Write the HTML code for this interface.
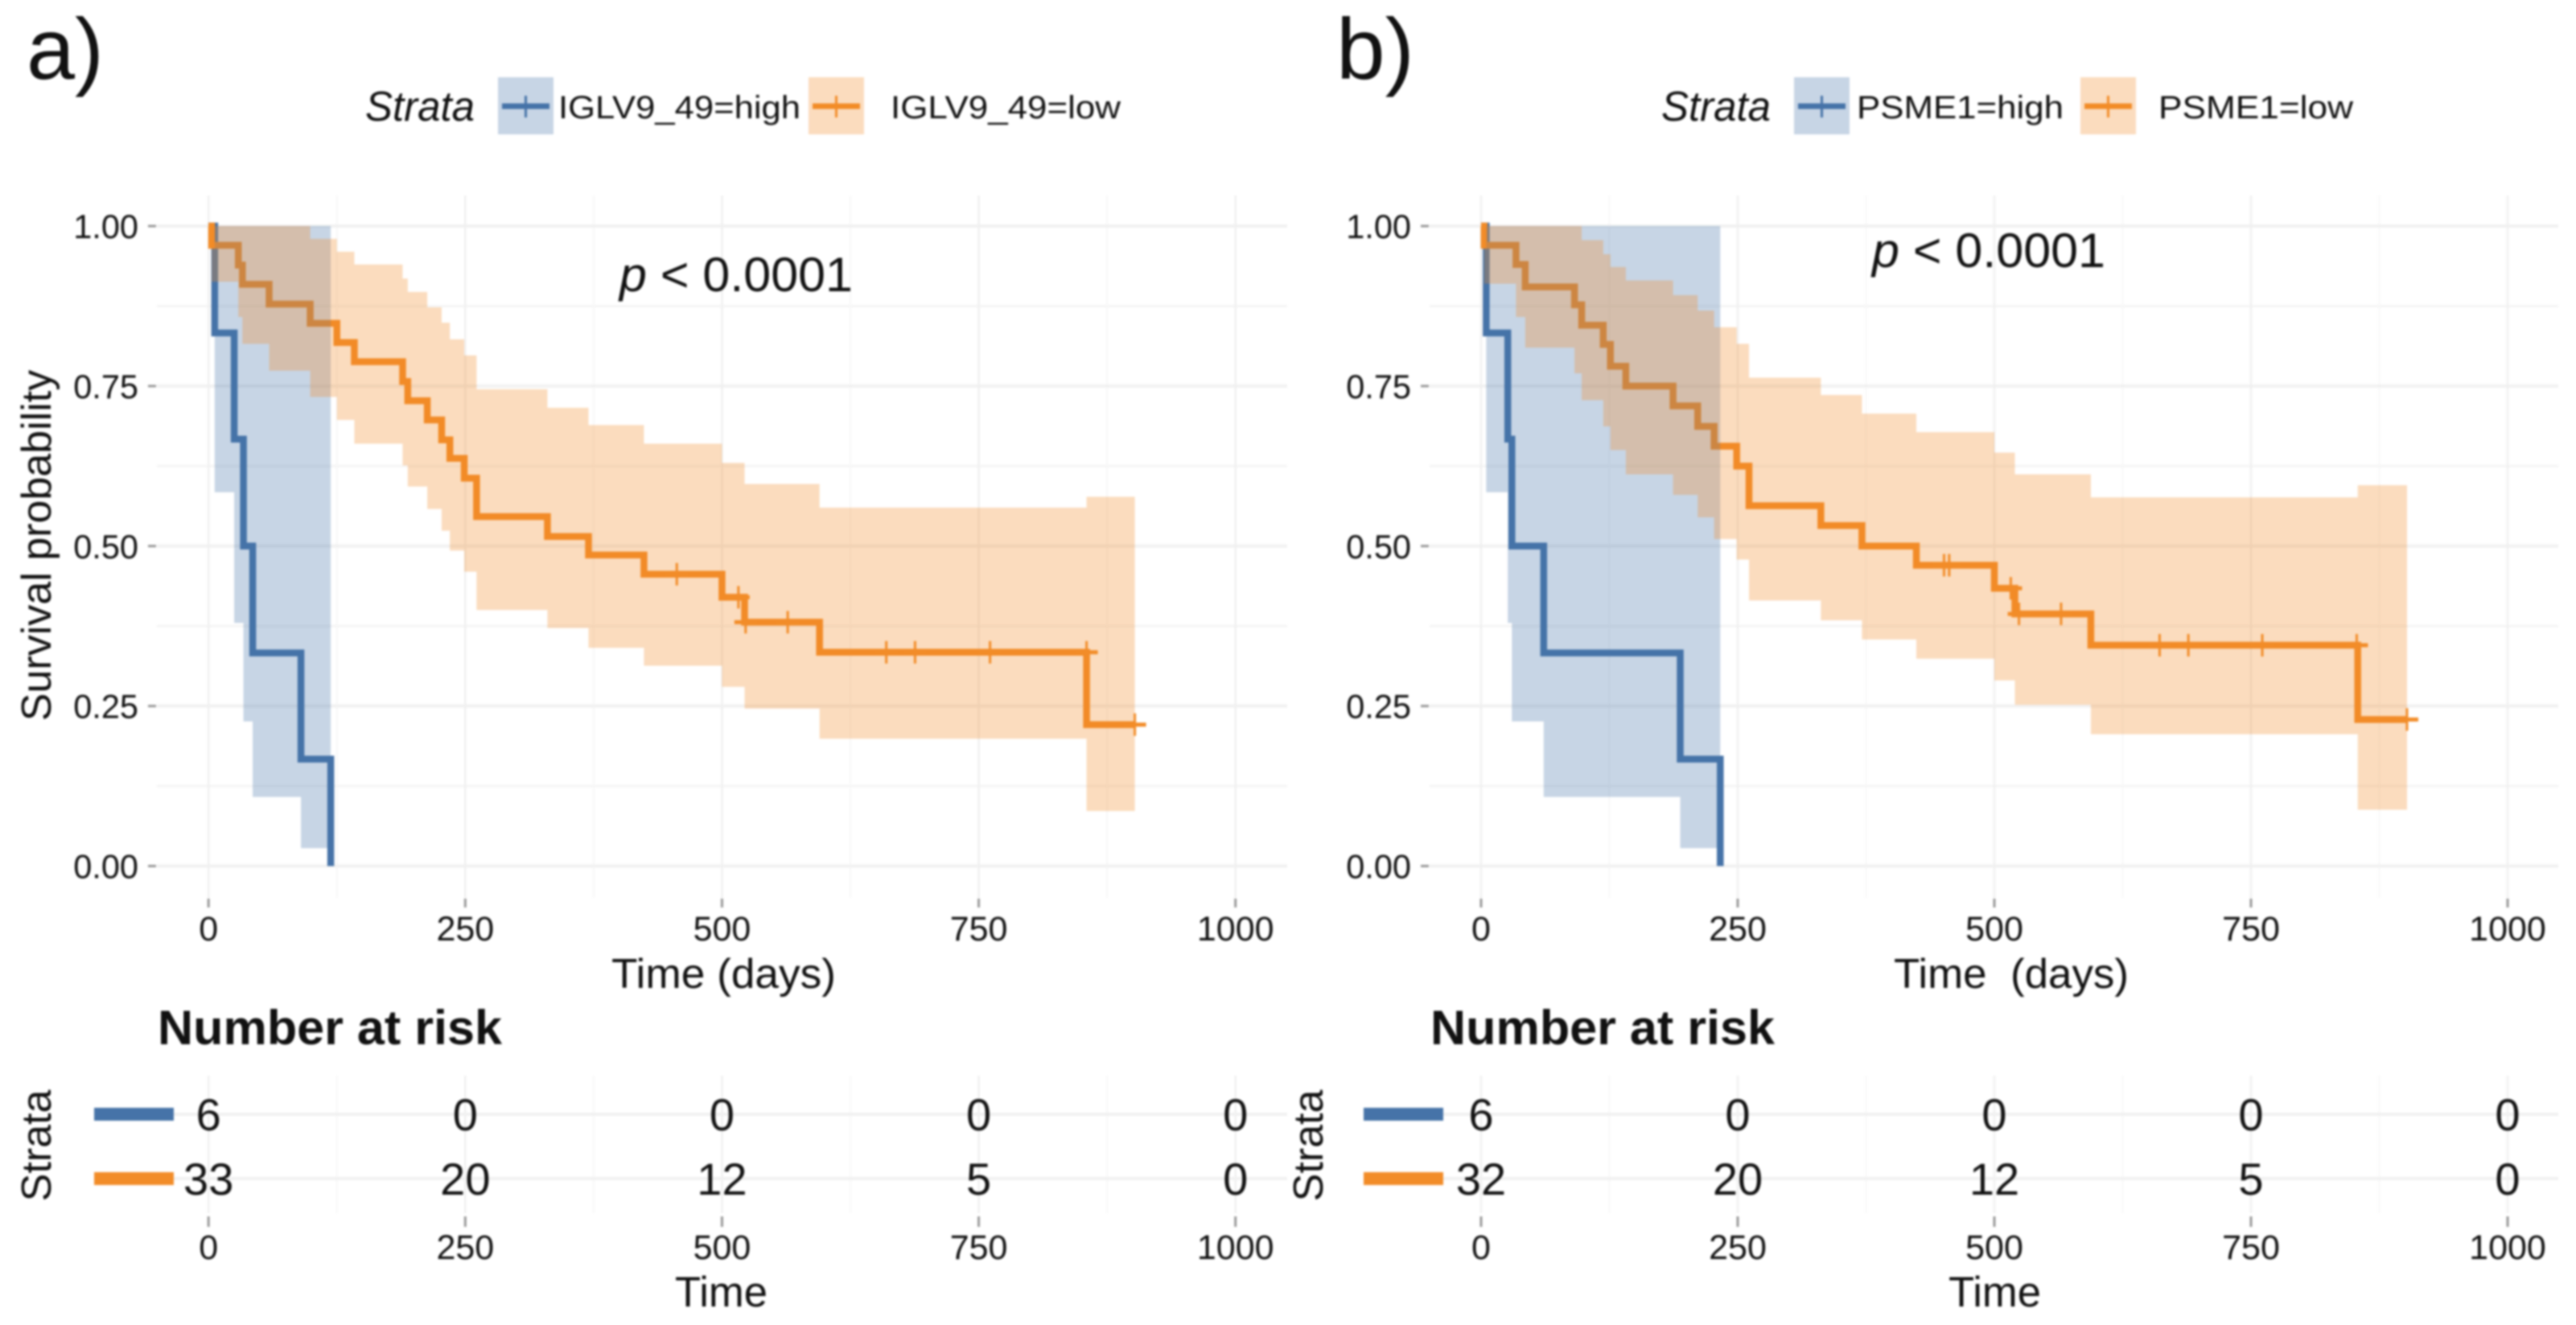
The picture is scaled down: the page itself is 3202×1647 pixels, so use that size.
<!DOCTYPE html>
<html lang="en">
<head>
<meta charset="utf-8">
<title>Kaplan-Meier survival curves</title>
<style>
html,body{margin:0;padding:0;background:#fff;width:3202px;height:1647px;overflow:hidden}
svg{display:block;filter:blur(1.2px)}
text{font-family:"Liberation Sans",sans-serif;fill:#111;white-space:pre}
</style>
</head>
<body>
<svg id="figure" xmlns="http://www.w3.org/2000/svg" width="3202" height="1647" viewBox="0 0 3202 1647">
  <rect x="0" y="0" width="3202" height="1647" fill="#fff"/>
  <g id="layer-marks"></g>

  <!-- panel a static text -->
  <text x="33" y="98" font-size="108" textLength="96" lengthAdjust="spacingAndGlyphs">a)</text>
  <text x="454" y="150" font-size="52" font-style="italic" textLength="136" lengthAdjust="spacingAndGlyphs">Strata</text>
  <text x="694" y="147" font-size="40" textLength="301" lengthAdjust="spacingAndGlyphs">IGLV9_49=high</text>
  <text x="1107" y="147" font-size="40" textLength="286" lengthAdjust="spacingAndGlyphs">IGLV9_49=low</text>
  <text x="770" y="362" font-size="60" textLength="290" lengthAdjust="spacingAndGlyphs"><tspan font-style="italic">p</tspan> &lt; 0.0001</text>
  <text transform="translate(63,678) rotate(-90)" text-anchor="middle" font-size="52">Survival probability</text>
  <text x="760" y="1228" font-size="52" textLength="279" lengthAdjust="spacingAndGlyphs">Time (days)</text>
  <text x="196" y="1298" font-size="60" font-weight="bold" textLength="428" lengthAdjust="spacingAndGlyphs">Number at risk</text>
  <text transform="translate(63,1424) rotate(-90)" text-anchor="middle" font-size="52">Strata</text>
  <text x="839" y="1624" font-size="53" textLength="115" lengthAdjust="spacingAndGlyphs">Time</text>

  <!-- panel b static text -->
  <text x="1661" y="98" font-size="108" textLength="97" lengthAdjust="spacingAndGlyphs">b)</text>
  <text x="2065" y="150" font-size="52" font-style="italic" textLength="136" lengthAdjust="spacingAndGlyphs">Strata</text>
  <text x="2308" y="147" font-size="40" textLength="257" lengthAdjust="spacingAndGlyphs">PSME1=high</text>
  <text x="2683" y="147" font-size="40" textLength="242" lengthAdjust="spacingAndGlyphs">PSME1=low</text>
  <text x="2327" y="332" font-size="60" textLength="290" lengthAdjust="spacingAndGlyphs"><tspan font-style="italic">p</tspan> &lt; 0.0001</text>
  <text x="2354" y="1228" font-size="52" textLength="292" lengthAdjust="spacingAndGlyphs">Time  (days)</text>
  <text x="1778" y="1298" font-size="60" font-weight="bold" textLength="428" lengthAdjust="spacingAndGlyphs">Number at risk</text>
  <text transform="translate(1644,1424) rotate(-90)" text-anchor="middle" font-size="52">Strata</text>
  <text x="2422" y="1624" font-size="53" textLength="115" lengthAdjust="spacingAndGlyphs">Time</text>
</svg>

<script>
// ---- shared axis data ----
const xTickValues = [0, 250, 500, 750, 1000];
const xTickLabels = ["0", "250", "500", "750", "1000"];
const xMinorValues = [125, 375, 625, 875];
const yTickValues = [0, 0.25, 0.5, 0.75, 1];
const yTickLabels = ["0.00", "0.25", "0.50", "0.75", "1.00"];
const yMinorValues = [0.125, 0.375, 0.625, 0.875];

// ---- panel a data ----
const aHighTime = [0, 6, 25, 34, 43, 90, 119];
const aHighSurv = [1, 0.833, 0.667, 0.5, 0.333, 0.167, 0];
const aHighLower = [1, 0.584, 0.38, 0.226, 0.108, 0.028, 0];
const aHighUpper = [1, 1, 1, 1, 1, 1, 1];
const aLowTime = [0, 3, 29, 33, 59, 99, 125, 142, 189, 194, 213, 227, 235, 249, 261, 330, 370, 424, 500, 522, 595, 855, 902];
const aLowSurv = [1, 0.97, 0.939, 0.909, 0.878, 0.848, 0.818, 0.788, 0.757, 0.727, 0.697, 0.666, 0.637, 0.606, 0.546, 0.515, 0.486, 0.456, 0.42, 0.381, 0.334, 0.221, 0.221];
const aLowUpper = [1, 1, 1, 1, 1, 0.98, 0.96, 0.94, 0.918, 0.897, 0.873, 0.849, 0.823, 0.798, 0.745, 0.716, 0.689, 0.66, 0.63, 0.597, 0.56, 0.577, 0.577];
const aLowLower = [1, 0.913, 0.858, 0.816, 0.774, 0.733, 0.697, 0.66, 0.626, 0.593, 0.558, 0.524, 0.493, 0.46, 0.4, 0.372, 0.341, 0.313, 0.28, 0.246, 0.199, 0.086, 0.086];
const aCensorTime = [456, 516, 523, 564, 660, 688, 761, 855, 902];
const aCensorSurv = [0.456, 0.42, 0.381, 0.381, 0.334, 0.334, 0.334, 0.334, 0.221];
const aRiskHigh = [6, 0, 0, 0, 0];
const aRiskLow = [33, 20, 12, 5, 0];

// ---- panel b data ----
const bHighTime = [0, 5, 26, 30, 61, 194, 233];
const bHighSurv = [1, 0.833, 0.667, 0.5, 0.333, 0.167, 0];
const bHighLower = [1, 0.584, 0.38, 0.226, 0.108, 0.028, 0];
const bHighUpper = [1, 1, 1, 1, 1, 1, 1];
const bLowTime = [0, 3, 34, 43, 91, 98, 119, 126, 141, 187, 211, 227, 249, 261, 331, 371, 424, 500, 520, 594, 854, 902];
const bLowSurv = [1, 0.97, 0.94, 0.905, 0.877, 0.845, 0.815, 0.781, 0.75, 0.719, 0.687, 0.656, 0.625, 0.563, 0.532, 0.5, 0.47, 0.434, 0.394, 0.345, 0.229, 0.229];
const bLowUpper = [1, 1, 1, 1, 1, 0.978, 0.956, 0.936, 0.915, 0.892, 0.868, 0.842, 0.816, 0.763, 0.736, 0.707, 0.678, 0.646, 0.612, 0.576, 0.595, 0.595];
const bLowLower = [1, 0.91, 0.858, 0.81, 0.77, 0.728, 0.687, 0.65, 0.612, 0.58, 0.545, 0.511, 0.479, 0.415, 0.384, 0.354, 0.324, 0.29, 0.252, 0.206, 0.088, 0.088];
const bCensorTime = [451, 456, 516, 524, 565, 661, 689, 761, 853, 902];
const bCensorSurv = [0.47, 0.47, 0.434, 0.394, 0.394, 0.345, 0.345, 0.345, 0.345, 0.229];
const bRiskHigh = [6, 0, 0, 0, 0];
const bRiskLow = [32, 20, 12, 5, 0];

// ---- drawing ----
const NS = "http://www.w3.org/2000/svg";
const BLUE = "#4673a8";
const ORANGE = "#f28c28";
const root = document.getElementById("layer-marks");

function add(tag, attrs, parent) {
  const node = document.createElementNS(NS, tag);
  for (const k in attrs) node.setAttribute(k, attrs[k]);
  (parent || root).appendChild(node);
  return node;
}

// y axis of the survival plot
function yScale(s) { return 1076.5 - s * 795.5; }

function stepPath(xs, ys, xScale) {
  let d = "M" + xScale(xs[0]) + " " + yScale(ys[0]);
  for (let i = 1; i < xs.length; i++) {
    d += "H" + xScale(xs[i]) + "V" + yScale(ys[i]);
  }
  return d;
}

// Ribbon: each bound holds its value from its own time up to the next time.
function bandPath(xs, upper, lower, xScale) {
  let d = "M" + xScale(xs[0]) + " " + yScale(upper[0]);
  for (let i = 1; i < xs.length; i++) d += "H" + xScale(xs[i]) + "V" + yScale(upper[i]);
  d += "V" + yScale(lower[xs.length - 2]);
  for (let i = xs.length - 1; i > 0; i--) d += "H" + xScale(xs[i - 1]) + (i > 1 ? "V" + yScale(lower[i - 2]) : "");
  return d + "Z";
}

function drawPanel(p) {
  const g = add("g", {});
  
  
  const xScale = function (t) { return p.x0 + t * p.pxPerDay; };

  // survival plot grid
  yMinorValues.forEach(function (v) {
    const el = add("line", {x1: p.left, x2: p.right, y1: yScale(v), y2: yScale(v), stroke: "#f5f5f5", "stroke-width": 3}, g);
    
    
  });
  xMinorValues.forEach(function (v) {
    const el = add("line", {x1: xScale(v), x2: xScale(v), y1: 243, y2: 1116, stroke: "#f7f7f7", "stroke-width": 2}, g);
    
    
  });
  yTickValues.forEach(function (v, i) {
    const el = add("line", {x1: p.left, x2: p.right, y1: yScale(v), y2: yScale(v), stroke: "#f1f1f1", "stroke-width": 4}, g);
    
    
    const tick = add("line", {x1: p.left - 11, x2: p.left - 1, y1: yScale(v), y2: yScale(v), stroke: "#999", "stroke-width": 3}, g);
    
    
    const label = add("text", {x: p.left - 23, y: yScale(v) + 15, "text-anchor": "end", "font-size": 41.5, fill: "#333"}, g);
    
    
    label.textContent = yTickLabels[i];
  });
  xTickValues.forEach(function (v, i) {
    const el = add("line", {x1: xScale(v), x2: xScale(v), y1: 243, y2: 1116, stroke: "#f0f0f0", "stroke-width": 2.5}, g);
    
    
    const tick = add("line", {x1: xScale(v), x2: xScale(v), y1: 1117, y2: 1128, stroke: "#999", "stroke-width": 3}, g);
    
    
    const label = add("text", {x: xScale(v), y: 1169, "text-anchor": "middle", "font-size": 43, fill: "#333"}, g);
    
    
    label.textContent = xTickLabels[i];
  });

  // survival lines beneath the ribbons
  const highLine = add("path", {d: stepPath(p.highTime, p.highSurv, xScale), fill: "none", stroke: BLUE, "stroke-width": 8.5, "stroke-linejoin": "miter"}, g);
  
  
  const lowLine = add("path", {d: stepPath(p.lowTime, p.lowSurv, xScale), fill: "none", stroke: ORANGE, "stroke-width": 8.5, "stroke-linejoin": "miter"}, g);
  
  

  // confidence ribbons
  const highBand = add("path", {d: bandPath(p.highTime.slice(1), p.highUpper.slice(1), p.highLower.slice(1), xScale), fill: BLUE, "fill-opacity": 0.3}, g);
  
  
  const lowBand = add("path", {d: bandPath(p.lowTime.slice(1), p.lowUpper.slice(1), p.lowLower.slice(1), xScale), fill: ORANGE, "fill-opacity": 0.3}, g);
  
  

  // censor marks
  p.censorTime.forEach(function (t, i) {
    const cx = xScale(t), cy = yScale(p.censorSurv[i]);
    const v = add("line", {x1: cx, x2: cx, y1: cy - 14, y2: cy + 14, stroke: ORANGE, "stroke-width": 3}, g);
    
    
    const h = add("line", {x1: cx - 14, x2: cx + 14, y1: cy, y2: cy, stroke: ORANGE, "stroke-width": 5}, g);
    
    
  });

  // legend keys
  [[p.keyHigh, BLUE], [p.keyLow, ORANGE]].forEach(function (k) {
    const key = add("rect", {x: k[0], y: 96, width: 69, height: 71, fill: k[1], "fill-opacity": 0.3}, g);
    
    
    const line = add("line", {x1: k[0] + 5, x2: k[0] + 64, y1: 132, y2: 132, stroke: k[1], "stroke-width": 7}, g);
    
    
    const mark = add("line", {x1: k[0] + 34.5, x2: k[0] + 34.5, y1: 119, y2: 146, stroke: k[1], "stroke-width": 3}, g);
    
    
  });

  // risk table
  const rowY = [1385, 1465];
  const rows = [p.riskHigh, p.riskLow];
  const rowColor = [BLUE, ORANGE];
  xMinorValues.forEach(function (v) {
    const el = add("line", {x1: xScale(v), x2: xScale(v), y1: 1337, y2: 1508, stroke: "#f8f8f8", "stroke-width": 2}, g);
    
    
  });
  xTickValues.forEach(function (v, i) {
    const el = add("line", {x1: xScale(v), x2: xScale(v), y1: 1337, y2: 1508, stroke: "#f0f0f0", "stroke-width": 2.5}, g);
    
    
    const tick = add("line", {x1: xScale(v), x2: xScale(v), y1: 1512, y2: 1525, stroke: "#999", "stroke-width": 3}, g);
    
    
    const label = add("text", {x: xScale(v), y: 1565, "text-anchor": "middle", "font-size": 43, fill: "#333"}, g);
    
    
    label.textContent = xTickLabels[i];
  });
  rows.forEach(function (row, r) {
    const grid = add("line", {x1: p.left, x2: p.right, y1: rowY[r], y2: rowY[r], stroke: "#f1f1f1", "stroke-width": 4}, g);
    
    
    const swatch = add("rect", {x: p.swatchX, y: rowY[r] - 8, width: 99, height: 16, fill: rowColor[r]}, g);
    
    
    row.forEach(function (n, i) {
      const t = add("text", {x: xScale(xTickValues[i]), y: rowY[r] + 20, "text-anchor": "middle", "font-size": 56}, g);
      
      
      t.textContent = n;
    });
  });
}

drawPanel({
  x0: 259.2, pxPerDay: 1.2765, left: 195, right: 1600, swatchX: 117, keyHigh: 619, keyLow: 1005,
  highTime: aHighTime, highSurv: aHighSurv, highLower: aHighLower, highUpper: aHighUpper,
  lowTime: aLowTime, lowSurv: aLowSurv, lowLower: aLowLower, lowUpper: aLowUpper,
  censorTime: aCensorTime, censorSurv: aCensorSurv, riskHigh: aRiskHigh, riskLow: aRiskLow
});
drawPanel({
  x0: 1841, pxPerDay: 1.276, left: 1777, right: 3180, swatchX: 1695, keyHigh: 2230, keyLow: 2586,
  highTime: bHighTime, highSurv: bHighSurv, highLower: bHighLower, highUpper: bHighUpper,
  lowTime: bLowTime, lowSurv: bLowSurv, lowLower: bLowLower, lowUpper: bLowUpper,
  censorTime: bCensorTime, censorSurv: bCensorSurv, riskHigh: bRiskHigh, riskLow: bRiskLow
});
</script>
</body>
</html>
